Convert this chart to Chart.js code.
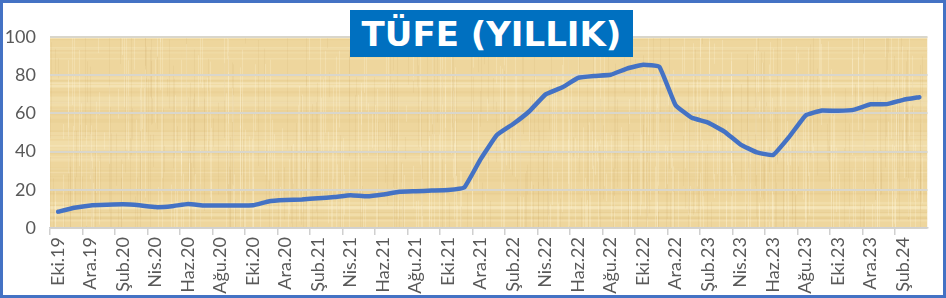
<!DOCTYPE html>
<html>
<head>
<meta charset="utf-8">
<script src="https://cdn.jsdelivr.net/npm/chart.js@4"></script>
<style>
  html, body { margin: 0; padding: 0; background: #fff; }
  #wrap {
    position: relative; width: 946px; height: 298px; box-sizing: border-box;
    border: 3px solid #4472C4; background: #fff;
  }
  #title {
    position: absolute; left: 347px; top: 7px; width: 283px; height: 47px;
    background: #0070C0; color: #fff; font: bold 34px "DejaVu Sans", Verdana, sans-serif;
    line-height: 48px; text-align: center; z-index: 2; white-space: nowrap;
  }
  canvas { display: block; }
</style>
</head>
<body>
<div id="wrap">
  <div id="title">TÜFE (YILLIK)</div>
  <canvas id="tufe" width="940" height="292"></canvas>
</div>
<script>
// aylar (Eki.19 - Mar.24)
var labels = [
  'Eki.19', 'Kas.19', 'Ara.19',
  'Oca.20', 'Şub.20', 'Mar.20', 'Nis.20', 'May.20', 'Haz.20', 'Tem.20', 'Ağu.20', 'Eyl.20', 'Eki.20', 'Kas.20', 'Ara.20',
  'Oca.21', 'Şub.21', 'Mar.21', 'Nis.21', 'May.21', 'Haz.21', 'Tem.21', 'Ağu.21', 'Eyl.21', 'Eki.21', 'Kas.21', 'Ara.21',
  'Oca.22', 'Şub.22', 'Mar.22', 'Nis.22', 'May.22', 'Haz.22', 'Tem.22', 'Ağu.22', 'Eyl.22', 'Eki.22', 'Kas.22', 'Ara.22',
  'Oca.23', 'Şub.23', 'Mar.23', 'Nis.23', 'May.23', 'Haz.23', 'Tem.23', 'Ağu.23', 'Eyl.23', 'Eki.23', 'Kas.23', 'Ara.23',
  'Oca.24', 'Şub.24', 'Mar.24'
];
var tufe = [
  8.55, 10.56, 11.84,
  12.15, 12.37, 11.86, 10.94, 11.39, 12.62, 11.76, 11.77, 11.75, 11.89, 14.03, 14.60,
  14.97, 15.61, 16.19, 17.14, 16.59, 17.53, 18.95, 19.25, 19.58, 19.89, 21.31, 36.08,
  48.69, 54.44, 61.14, 69.97, 73.50, 78.62, 79.60, 80.21, 83.45, 85.51, 84.39, 64.27,
  57.68, 55.18, 50.51, 43.68, 39.59, 38.21, 47.83, 58.94, 61.53, 61.36, 61.98, 64.77,
  64.86, 67.07, 68.50
];
var yTicks = [0, 20, 40, 60, 80, 100];

// papirus dokusu (sadece süs)
var seed = 7;
function rnd() { seed = (seed * 16807) % 2147483647; return seed / 2147483647; }
var papyrus = {
  id: 'papyrus',
  beforeDraw: function(chart) {
    var a = chart.chartArea, c = chart.ctx;
    var w = a.right - a.left, h = a.bottom - a.top;
    c.save();
    c.beginPath();
    c.rect(a.left, a.top, w, h);
    c.clip();
    c.fillStyle = '#EED69D';
    c.fillRect(a.left, a.top, w, h);
    seed = 7;
    // yatay bantlar
    for (var j = 0; j < 60; j++) {
      var yy = a.top + rnd() * h;
      c.fillStyle = rnd() < 0.5 ? 'rgba(200,160,90,0.08)' : 'rgba(255,246,215,0.22)';
      c.fillRect(a.left, yy, w, 1 + rnd() * 3);
    }
    // dikey lifler
    for (var i = 0; i < 700; i++) {
      var x = a.left + rnd() * w;
      var y0 = a.top - 20 + rnd() * h;
      var hh = 15 + rnd() * h * 0.7;
      c.fillStyle = rnd() < 0.5 ? 'rgba(195,155,85,0.10)' : 'rgba(255,248,220,0.25)';
      c.fillRect(Math.round(x), y0, 1, hh);
    }
    c.restore();
  }
};

var ctx = document.getElementById('tufe');
var chart = new Chart(ctx, {
  type: 'line',
  data: {
    labels: labels,
    datasets: [{
      label: 'TÜFE',
      data: tufe,
      borderColor: '#4472C4',
      borderWidth: 4.5,
      pointRadius: 0,
      tension: 0.1,
      borderCapStyle: 'round',
      borderJoinStyle: 'round'
    }]
  },
  options: {
    responsive: false,
    animation: false,
    layout: { padding: { top: 34, right: 3, left: 0, bottom: 0 } },
    plugins: { legend: { display: false }, tooltip: { enabled: false } },
    scales: {
      x: {
        offset: true,
        grid: {
          offset: true,
          drawOnChartArea: false,
          tickLength: 7,
          lineWidth: 1.5,
          tickColor: function(c) { return c.index % 2 === 0 ? '#D0D0D0' : 'rgba(0,0,0,0)'; }
        },
        border: { color: '#D0D0D0', width: 1.5 },
        afterFit: function(s) { s.height = 67; },
        ticks: {
          autoSkip: false,
          minRotation: 90,
          maxRotation: 90,
          padding: 2,
          color: '#595959',
          font: { family: 'Lato', size: 18 },
          callback: function(v, i) { return i % 2 === 0 ? labels[i] : ''; }
        }
      },
      y: {
        min: 0,
        max: 100,
        afterBuildTicks: function(s) { s.ticks = yTicks.map(function(v) { return { value: v }; }); },
        afterFit: function(s) { s.width = 47; },
        border: { display: false },
        grid: { color: '#D9D6CB', lineWidth: 2, drawTicks: false },
        ticks: {
          padding: 14,
          color: '#595959',
          font: { family: 'Lato', size: 18 }
        }
      }
    }
  },
  plugins: [papyrus]
});
</script>
</body>
</html>
